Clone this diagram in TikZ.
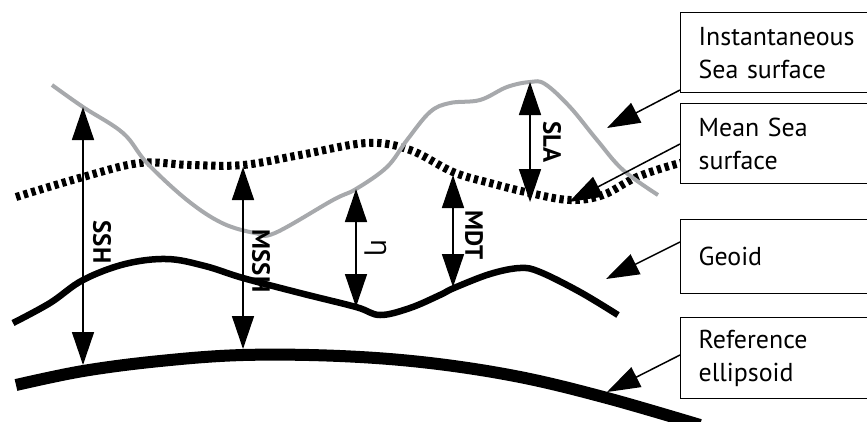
\documentclass[tikz,border=0pt]{standalone}
\usepackage{fontspec}
\setmainfont{PT Sans}
\newfontfamily\etafont{Open Sans}
\usepackage{tikz}
\usetikzlibrary{arrows.meta,calc}
\definecolor{seagrey}{RGB}{167,169,172}
\tikzset{
	box/.style={draw, line width=1.3bp, fill=white, anchor=north west,
		minimum width=200bp, minimum height=80bp, inner xsep=18bp,
		text width=164bp, align=left, font=\fontsize{26}{33}\selectfont},
	hgt/.style={line width=1.5bp, {Triangle[length=33bp,width=22bp]}-{Triangle[length=33bp,width=22bp]}},
	ptr/.style={line width=1.5bp, -{Triangle[length=33bp,width=22bp]}},
	lbl/.style={rotate=-90, inner sep=0pt, font=\fontsize{25}{25}\selectfont\bfseries}
}

\begin{document}
\begin{tikzpicture}[x=1bp, y=-1bp]
		\useasboundingbox (0,0) rectangle (867,421);
		\clip (0,0) rectangle (867,421);
		
		% 参考椭球
		\draw[line width=12bp] plot[smooth, tension=0.6] coordinates {
			(16,385) (83,371) (160,361) (243,355) (340,356) (430,363) (520,377) (607,398) (700,425)};
		
		% 大地水准面
		\draw[line width=6.5bp] plot[smooth, tension=0.6] coordinates {
			(13,323) (50,303) (83,280) (125,264) (167,259) (205,266) (243,278) (300,293)
			(356,307) (380,315) (410,308) (440,295) (454,288) (490,274) (520,268) (540,272)
			(580,292) (618,315)};
		
		% 平均海面 (虚线)
		\draw[line width=8bp, dash pattern=on 4.3bp off 3.7bp] plot[smooth, tension=0.6] coordinates {
			(16,197) (83,177) (140,163) (190,165) (243,165) (300,155) (367,143) (410,150)
			(453,172) (490,183) (530,193) (570,200) (603,195) (637,177) (680,163) (700,160)};
		
		% 瞬时海面 (灰色)
		\draw[seagrey, line width=4bp] plot[smooth, tension=0.6] coordinates {
			(52,85) (83,107) (123,133) (147,163) (187,200) (222,223) (255,233) (275,233)
			(333,200) (356,189) (387,167) (407,140) (430,112) (450,103) (480,100) (507,87)
			(530,82) (545,84) (570,107) (597,140) (623,170) (658,195)};
		
		% 高度箭头
		\coordinate (sshT) at (83,107);
		\coordinate (sshB) at (83,365);
		\coordinate (msshT) at (243,167);
		\coordinate (msshB) at (243,349);
		\coordinate (etaT) at (356,189);
		\coordinate (etaB) at (356,307);
		\coordinate (mdtT) at (453,175);
		\coordinate (mdtB) at (453,287);
		\coordinate (slaT) at (530,82);
		\coordinate (slaB) at (530,202);
		
		\draw[hgt] (sshT) -- (sshB);
		\draw[hgt] (msshT) -- (msshB);
		\draw[hgt] (etaT) -- (etaB);
		\draw[hgt] (mdtT) -- (mdtB);
		\draw[hgt] (slaT) -- (slaB);
		
		\node[lbl] (ssh) at (102,242) {SSH};
		\node[lbl] (mssh) at (261,261) {MSSH};
		\node[lbl, font=\fontsize{28}{28}\selectfont\etafont] (eta) at (376,248) {η};
		\node[lbl] (mdt) at (474,235) {MDT};
		\node[lbl] (sla) at (552,142) {SLA};
		
		% 说明框
		\node[box] (iss) at (680,12) {Instantaneous\\Sea surface};
		\node[box] (mss) at (680,103) {Mean Sea\\surface};
		\node[box, minimum height=74bp] (geo) at (680,219) {Geoid};
		\node[box, minimum height=81bp] (ell) at (680,317) {Reference\\ellipsoid};
		
		% 指示箭头
		\coordinate (issA) at ($(iss.north west)+(0,78)$);
		\coordinate (mssA) at ($(mss.north west)+(0,41)$);
		\coordinate (geoA) at ($(geo.north west)+(0,23)$);
		\coordinate (ellA) at ($(ell.north west)+(0,38)$);
		\coordinate (issB) at (607,128);
		\coordinate (mssB) at (569,202);
		\coordinate (geoB) at (606,279);
		\coordinate (ellB) at (607,392);
		
		\draw[ptr] (issA) -- (issB);
		\draw[ptr] (mssA) -- (mssB);
		\draw[ptr] (geoA) -- (geoB);
		\draw[ptr] (ellA) -- (ellB);
	\end{tikzpicture}
\end{document}
